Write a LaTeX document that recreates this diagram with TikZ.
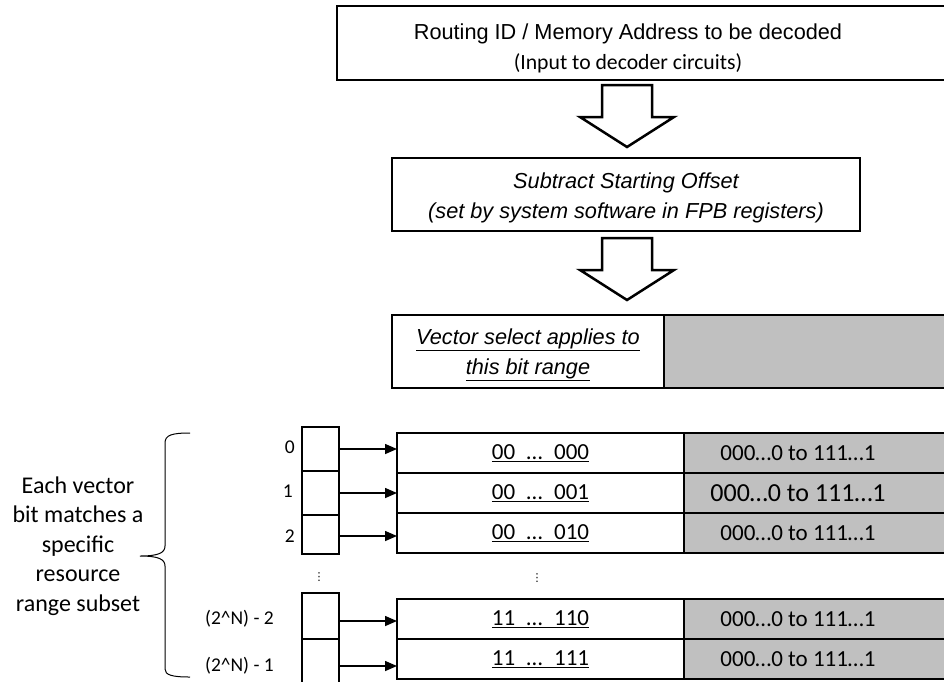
\documentclass[tikz,border=0pt]{standalone}
\usepackage{fontspec}
\setmainfont{Liberation Sans}
\newfontfamily\calibri{Carlito}
\newfontfamily\dejavu{DejaVu Sans}
\usetikzlibrary{positioning,arrows.meta}

\definecolor{cellgray}{HTML}{C0C0C0}

\tikzset{
  box/.style={draw, line width=2.5pt, inner sep=0pt, outer sep=0pt},
  cell/.style={box, minimum height=40pt, font=\calibri\fontsize{23}{28}\selectfont},
  graycell/.style={cell, fill=cellgray, minimum width=300pt},
  gtext/.style={xshift=-36pt, inner sep=0pt, font=\calibri\fontsize{23}{28}\selectfont},
  vcell/.style={box, minimum width=37pt},
  lbl/.style={inner sep=0pt, font=\calibri\fontsize{19.5}{22}\selectfont},
  dots/.style={inner sep=0pt, font=\dejavu\fontsize{11}{11}\selectfont},
  fat/.style={draw, line width=2.5pt, fill=white, line join=miter},
  link/.style={-{Triangle[length=12pt,width=10pt]}, line width=1.5pt},
}

% downward block arrow: centre x, top y
\newcommand{\fatarrow}[2]{%
  \draw[fat] (#1-25,#2) -- (#1+25,#2) -- (#1+25,#2+32) -- (#1+47,#2+32)
    -- (#1,#2+62) -- (#1-47,#2+32) -- (#1-25,#2+32) -- cycle;}
\newcommand{\gap}{\enspace…\enspace}

\begin{document}
\begin{tikzpicture}[x=1pt, y=-1pt, node distance=0pt]
\useasboundingbox (0,0) rectangle (944,681);
\clip (0,0) rectangle (944,681);

% input and offset boxes
\node[box, minimum width=633pt, minimum height=74pt] (input) at (653.5,43) {};
\node[align=center, font=\fontsize{21.7}{30}\selectfont] (inputtxt) at (628,48)
  {Routing ID / Memory Address to be decoded\\{\calibri (Input to decoder circuits)}};
\fatarrow{627}{85}
\node[box, minimum width=468pt, minimum height=73pt] (offset) at (626,194.5) {};
\node[align=center, font=\itshape\fontsize{21.7}{30}\selectfont] (offtxt) at (626,198)
  {Subtract Starting Offset\\(set by system software in FPB registers)};
\fatarrow{627}{238}

% vector select range
\node[box, minimum width=272pt, minimum height=73pt] (vecsel) at (528,351.5) {};
\node[align=center, font=\itshape\fontsize{21.7}{30}\selectfont] (vectxt) at (528,355)
  {\underline{Vector select applies to}\\\underline{this bit range}};
\node[box, fill=cellgray, minimum width=306pt, minimum height=73pt, right=of vecsel] (rest) {};

% decoded rows
\node[cell, minimum width=287pt] (r0) at (540.5,453) {\underline{00\gap000}};
\node[graycell, right=of r0, label={[gtext]center:000…0 to 111…1}] (g0) {};
\node[cell, minimum width=287pt, below=of r0] (r1) {\underline{00\gap001}};
\node[graycell, right=of r1, label={[gtext, font=\calibri\fontsize{26}{30}\selectfont]center:000…0 to 111…1}] (g1) {};
\node[cell, minimum width=287pt, below=of r1] (r2) {\underline{00\gap010}};
\node[graycell, right=of r2, label={[gtext]center:000…0 to 111…1}] (g2) {};
\node[dots] (rdots) at (537,578) {⋮};
\node[cell, minimum width=287pt] (rm2) at (540.5,619) {\underline{11\gap110}};
\node[graycell, right=of rm2, label={[gtext]center:000…0 to 111…1}] (gm2) {};
\node[cell, minimum width=287pt, below=of rm2] (rm1) {\underline{11\gap111}};
\node[graycell, right=of rm1, label={[gtext]center:000…0 to 111…1}] (gm1) {};

% vector bits
\node[vcell, minimum height=44pt] (v0) at (320.5,449) {};
\node[vcell, minimum height=44pt, below=of v0] (v1) {};
\node[vcell, minimum height=39pt, below=of v1] (v2) {};
\node[dots] (vdots) at (319,577) {⋮};
\node[vcell, minimum height=46pt] (vm2) at (320.5,616) {};
\node[vcell, minimum height=46pt, below=of vm2] (vm1) {};

\node[lbl, left=7pt of v0, yshift=2pt] (l0) {0};
\node[lbl, left=9pt of v1, yshift=2pt] (l1) {1};
\node[lbl, left=7pt of v2, yshift=-2pt] (l2) {2};
\node[lbl, left=28pt of vm2, yshift=-3pt] (lm2) {(2\textasciicircum N) - 2};
\node[lbl, left=28pt of vm1, yshift=-4pt] (lm1) {(2\textasciicircum N) - 1};

\draw[link] (v0.east) -- (v0.east -| r0.west);
\draw[link] (v1.east) -- (v1.east -| r1.west);
\draw[link] ([yshift=-1.5pt]v2.east) -- ([yshift=-1.5pt]v2.east -| r2.west);
\draw[link] ([yshift=-5pt]vm2.east) -- ([yshift=-5pt]vm2.east -| rm2.west);
\draw[link] ([yshift=-4pt]vm1.east) -- ([yshift=-4pt]vm1.east -| rm1.west);

% brace and note
\draw[line width=1pt] (190,433) .. controls (172,433) and (165,435) .. (165,443)
  -- (165,546) .. controls (165,553) and (158,556) .. (140,556)
  .. controls (158,556) and (165,559) .. (165,566)
  -- (165,669) .. controls (165,675) and (172,677) .. (190,677);
\node[align=center, font=\calibri\fontsize{24}{29.5}\selectfont] (note) at (78,546)
  {Each vector\\bit matches a\\specific\\resource\\range subset};
\end{tikzpicture}
\end{document}
